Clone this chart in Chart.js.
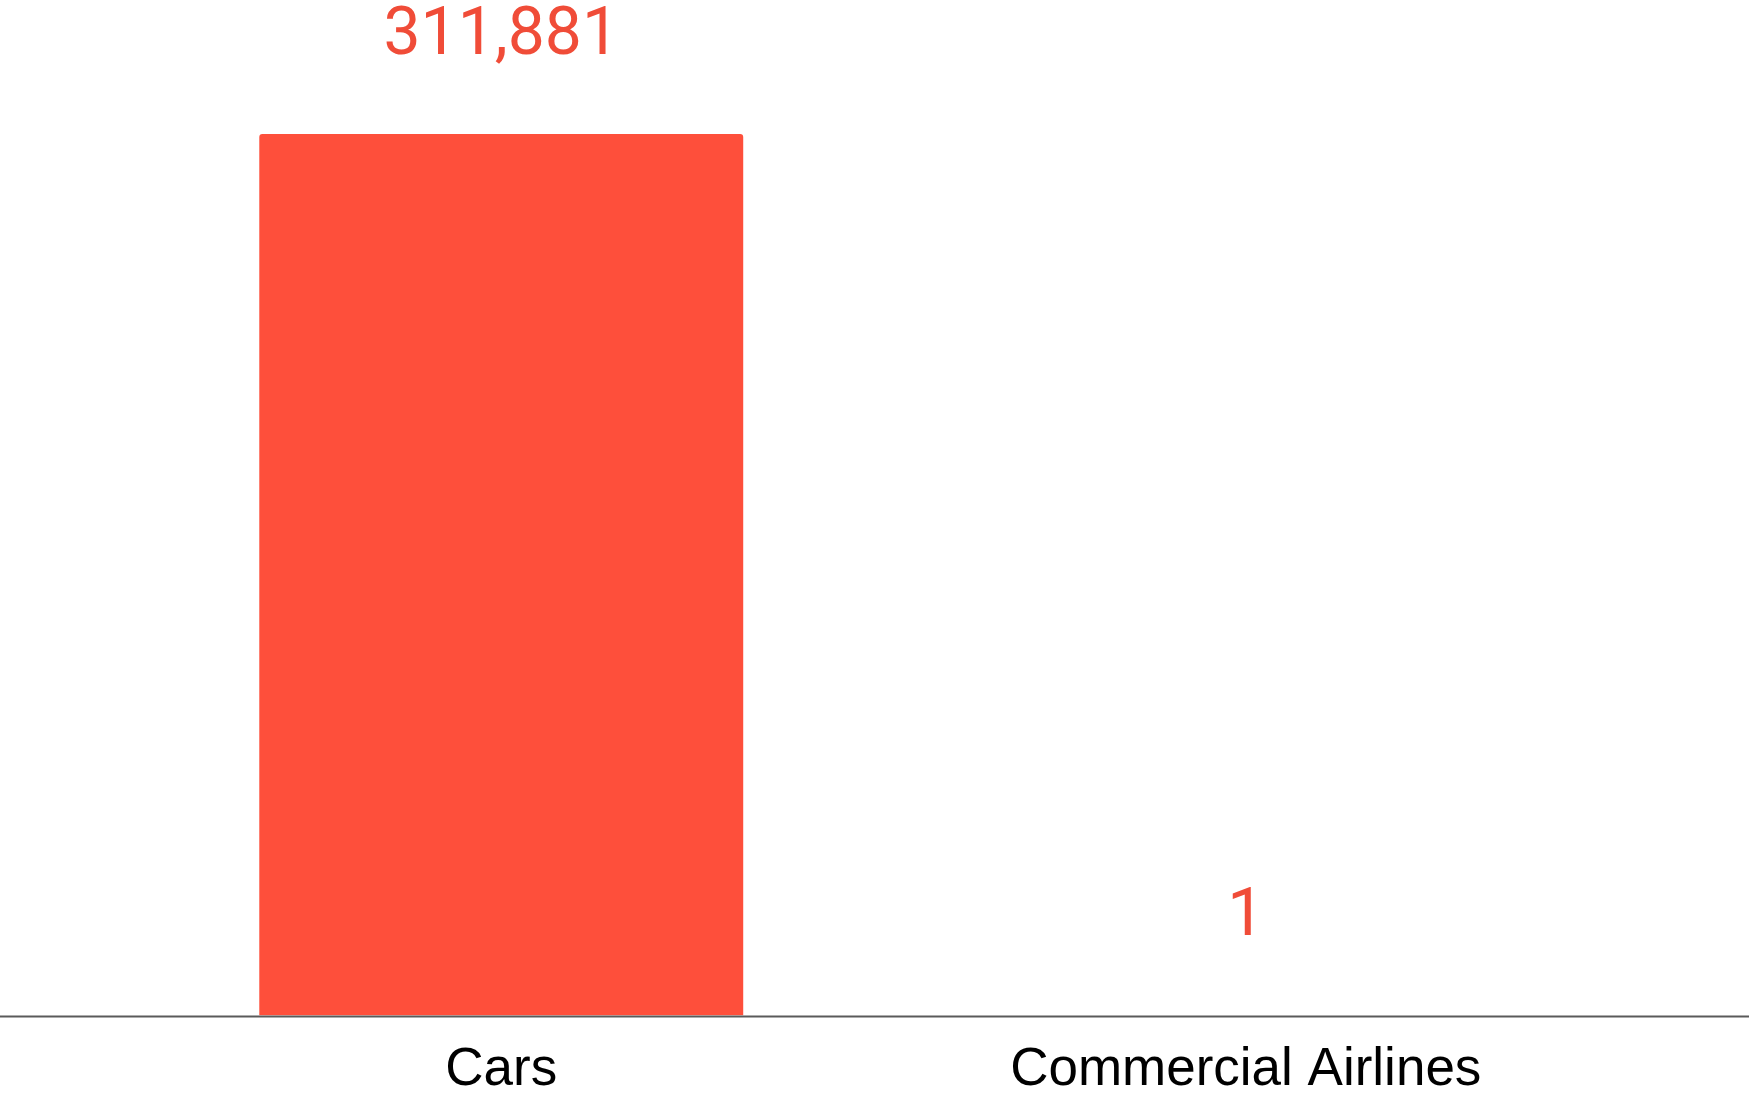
<!DOCTYPE html>
<html>
<head>
<meta charset="utf-8">
<script src="https://cdn.jsdelivr.net/npm/chart.js@4/dist/chart.umd.min.js"></script>
<style>
  html, body { margin: 0; padding: 0; background: #fff; overflow: hidden; }
  canvas { display: block; }
</style>
</head>
<body>
<canvas id="chart" width="1749" height="1093"></canvas>
<script>
// --- data ---
const categories = ["Cars", "Commercial Airlines"];
const values = [311881, 1];

const barColor = "#fe4f3b";
const labelColor = "#f04c38";

// value labels above each bar
const valueLabels = {
  id: "valueLabels",
  afterDatasetsDraw(chart) {
    const ctx = chart.ctx;
    const meta = chart.getDatasetMeta(0);
    ctx.save();
    ctx.font = "66px Roboto";
    ctx.fillStyle = labelColor;
    ctx.textAlign = "center";
    ctx.textBaseline = "alphabetic";
    meta.data.forEach((bar, i) => {
      ctx.fillText(values[i].toLocaleString("en-US"), bar.x, bar.y - 80);
    });
    ctx.restore();
  },
};

// baseline across the full width
const baseLine = {
  id: "baseLine",
  afterDatasetsDraw(chart) {
    const ctx = chart.ctx;
    const y = chart.scales.y.getPixelForValue(0);
    ctx.save();
    ctx.strokeStyle = "#5a5a5a";
    ctx.lineWidth = 2;
    ctx.beginPath();
    ctx.moveTo(0, y + 1);
    ctx.lineTo(chart.width, y + 1);
    ctx.stroke();
    ctx.restore();
  },
};

new Chart(document.getElementById("chart"), {
  type: "bar",
  data: {
    labels: categories,
    datasets: [
      {
        data: values,
        backgroundColor: barColor,
        borderRadius: { topLeft: 3, topRight: 3 },
        borderSkipped: "bottom",
        categoryPercentage: 1,
        barPercentage: 0.65,
      },
    ],
  },
  options: {
    responsive: false,
    animation: false,
    // labels sit low, partly past the bottom edge, as in the source
    layout: { padding: { top: 134, left: 129, right: 131, bottom: -32 } },
    plugins: { legend: { display: false }, tooltip: { enabled: false } },
    scales: {
      x: {
        grid: { display: false, drawTicks: false },
        border: { display: false },
        ticks: {
          color: "#000",
          padding: 23,
          font: { family: "'Liberation Sans', Arial, sans-serif", size: 53 },
        },
      },
      y: {
        display: false,
        min: 0,
        max: values[0],
      },
    },
  },
  plugins: [valueLabels, baseLine],
});
</script>
</body>
</html>
